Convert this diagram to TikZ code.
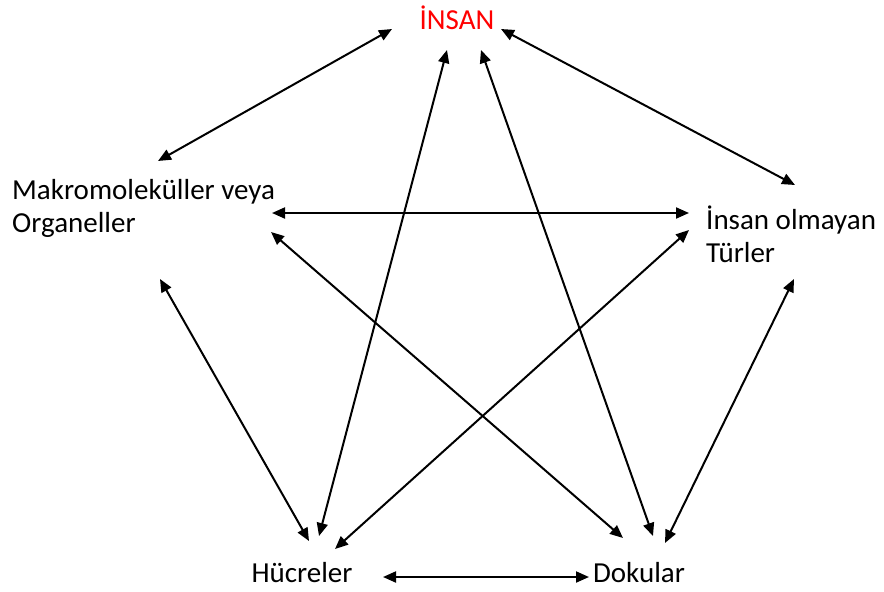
\documentclass[tikz,border=0pt]{standalone}
\usepackage{fontspec}
\setmainfont{Carlito}
\usetikzlibrary{arrows.meta}
\begin{document}
\begin{tikzpicture}[x=1pt,y=-1pt,
  lbl/.style={inner sep=0pt,font=\fontsize{29}{33}\selectfont},
  conn/.style={line width=2pt,{Triangle[length=13pt,width=11pt]}-{Triangle[length=13pt,width=11pt]}}]
\useasboundingbox (0,0) rectangle (884,592);
\node[lbl,text=red] (insan) at (457,18) {İNSAN};
\node[lbl,align=left,anchor=west] (makro) at (12,208) {Makromoleküller veya\\Organeller};
\node[lbl,align=left,anchor=west] (tur) at (706,234) {İnsan olmayan\\Türler};
\node[lbl] (huc) at (302,573) {Hücreler};
\node[lbl] (dok) at (639,573) {Dokular};
% endpoints
\coordinate (a1) at (392,29);  \coordinate (a2) at (158,161);
\coordinate (b1) at (501,29);  \coordinate (b2) at (795,185);
\coordinate (c1) at (447,50);  \coordinate (c2) at (319,536);
\coordinate (d1) at (481,50);  \coordinate (d2) at (653,536);
\coordinate (e1) at (272,213); \coordinate (e2) at (689,213);
\coordinate (f1) at (271,232); \coordinate (f2) at (623,538);
\coordinate (g1) at (689,230); \coordinate (g2) at (335,549);
\coordinate (h1) at (160,279); \coordinate (h2) at (309,541);
\coordinate (i1) at (794,279); \coordinate (i2) at (665,543);
\coordinate (j1) at (383,577); \coordinate (j2) at (589,577);
\draw[conn] (a1) -- (a2);
\draw[conn] (b1) -- (b2);
\draw[conn] (c1) -- (c2);
\draw[conn] (d1) -- (d2);
\draw[conn] (e1) -- (e2);
\draw[conn] (f1) -- (f2);
\draw[conn] (g1) -- (g2);
\draw[conn] (h1) -- (h2);
\draw[conn] (i1) -- (i2);
\draw[conn] (j1) -- (j2);
\end{tikzpicture}
\end{document}
